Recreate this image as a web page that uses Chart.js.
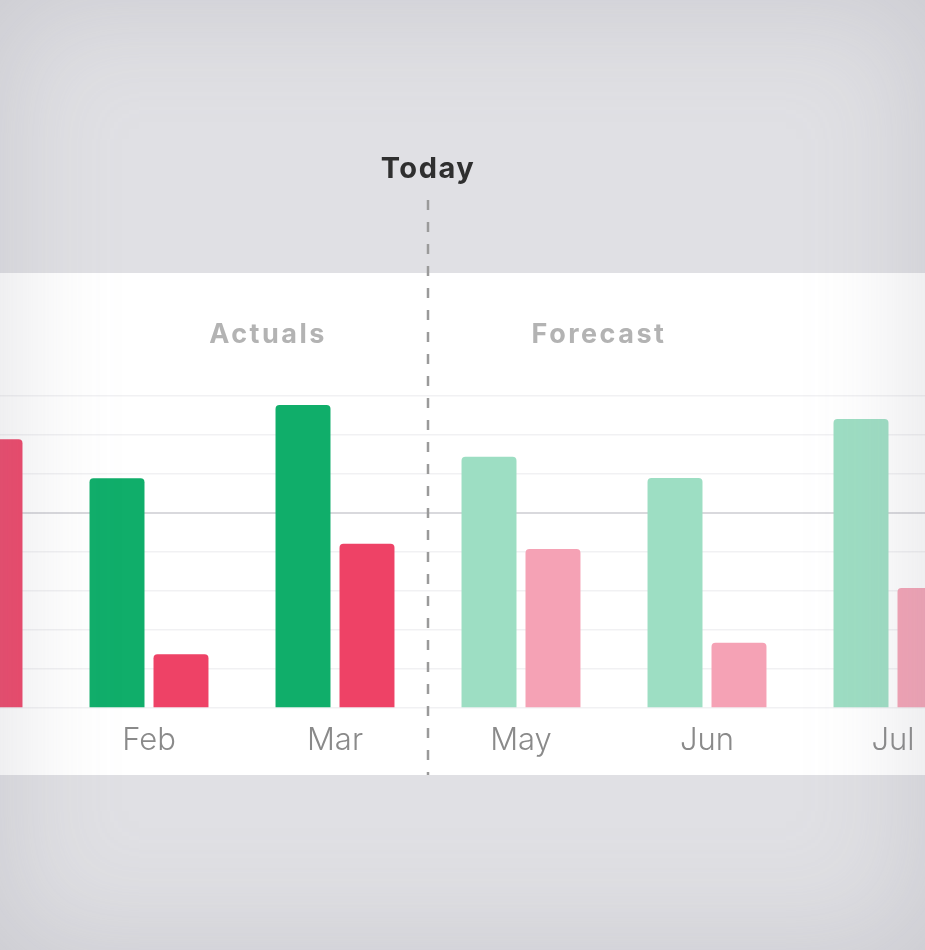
<!DOCTYPE html>
<html>
<head>
<meta charset="utf-8">
<script src="https://cdn.jsdelivr.net/npm/chart.js@4.4.1/dist/chart.umd.min.js"></script>
<style>
  html, body { margin: 0; padding: 0; }
  body { width: 925px; height: 950px; background: #e0e0e4; position: relative; overflow: hidden; }
  #band { position: absolute; left: 0; top: 273px; width: 925px; height: 502px; background: #fff; }
  #wrap { position: absolute; left: -130px; top: 130px; width: 1116px; height: 645px; }
  #vignette { position: absolute; left: 0; top: 0; width: 925px; height: 950px; pointer-events: none;
    box-shadow: inset 0 0 110px 8px rgba(150,150,160,0.28); }
</style>
</head>
<body>
<div id="band"></div>
<div id="wrap"><canvas id="chart-flujo"></canvas></div>
<div id="vignette"></div>
<script>
const meses = ['Jan', 'Feb', 'Mar', 'May', 'Jun', 'Jul'];
const ingresos = [72, 58.9, 77.7, 64.4, 59, 74.1];
const gastos = [68.9, 13.8, 42.1, 40.8, 16.7, 30.8];
const esPronostico = [false, false, false, true, true, true];
const ticksY = [0, 10, 20, 30, 40, 50, 60, 70, 80];
const lineaMeta = 50;

const VERDE = '#10ae6a', VERDE_CLARO = '#9ddec3';
const ROJO = '#ee4266', ROSA = '#f5a2b5';
const FUENTE = 'Inter, "DejaVu Sans", sans-serif';

// linea "Today" entre el ultimo mes real y el primero pronosticado
const hoyPlugin = {
  id: 'hoy',
  afterDatasetsDraw(chart) {
    const { ctx, scales } = chart;
    const idx = esPronostico.indexOf(true);
    const x = (scales.x.getPixelForValue(idx - 1) + scales.x.getPixelForValue(idx)) / 2;
    ctx.save();
    ctx.strokeStyle = '#9a9a9a';
    ctx.lineWidth = 2.5;
    ctx.setLineDash([10, 12]);
    ctx.beginPath();
    ctx.moveTo(x, 70);
    ctx.lineTo(x, chart.height);
    ctx.stroke();
    ctx.setLineDash([]);
    ctx.textAlign = 'center';
    ctx.textBaseline = 'middle';
    ctx.fillStyle = '#2f2f2f';
    ctx.font = `bold 29px ${FUENTE}`;
    ctx.letterSpacing = '1.5px';
    ctx.fillText('Today', x, 39);
    ctx.fillStyle = '#b3b3b3';
    ctx.font = `bold 27px ${FUENTE}`;
    ctx.letterSpacing = '2.5px';
    ctx.fillText('Actuals', x - 160, 205);
    ctx.fillText('Forecast', x + 171, 205);
    ctx.restore();
  }
};

new Chart(document.getElementById('chart-flujo'), {
  type: 'bar',
  data: {
    labels: meses,
    datasets: [
      { label: 'Ingresos', data: ingresos, backgroundColor: esPronostico.map((f) => (f ? VERDE_CLARO : VERDE)) },
      { label: 'Gastos', data: gastos, backgroundColor: esPronostico.map((f) => (f ? ROSA : ROJO)) }
    ]
  },
  options: {
    responsive: true,
    maintainAspectRatio: false,
    animation: false,
    categoryPercentage: 0.688,
    barPercentage: 0.859,
    borderRadius: { topLeft: 4, topRight: 4 },
    borderSkipped: 'bottom',
    layout: { padding: { top: 266, bottom: 0, left: 0, right: 0 } },
    plugins: { legend: { display: false }, tooltip: { enabled: false } },
    scales: {
      x: {
        afterFit: (axis) => { axis.height = 67; },
        grid: { display: false, drawTicks: false },
        border: { display: false },
        ticks: { color: '#8a8a8a', padding: 14, font: { family: FUENTE, size: 31, weight: '300' } }
      },
      y: {
        min: 0,
        max: ticksY[ticksY.length - 1],
        afterBuildTicks: (axis) => { axis.ticks = ticksY.map((v) => ({ value: v })); },
        ticks: { display: false },
        border: { display: false },
        grid: {
          drawTicks: false,
          lineWidth: (c) => (c.tick && c.tick.value === lineaMeta ? 2 : 1.5),
          color: (c) => (c.tick && c.tick.value === lineaMeta ? '#d9d9dd' : '#f1f1f3')
        }
      }
    }
  },
  plugins: [hoyPlugin]
});
</script>
</body>
</html>
